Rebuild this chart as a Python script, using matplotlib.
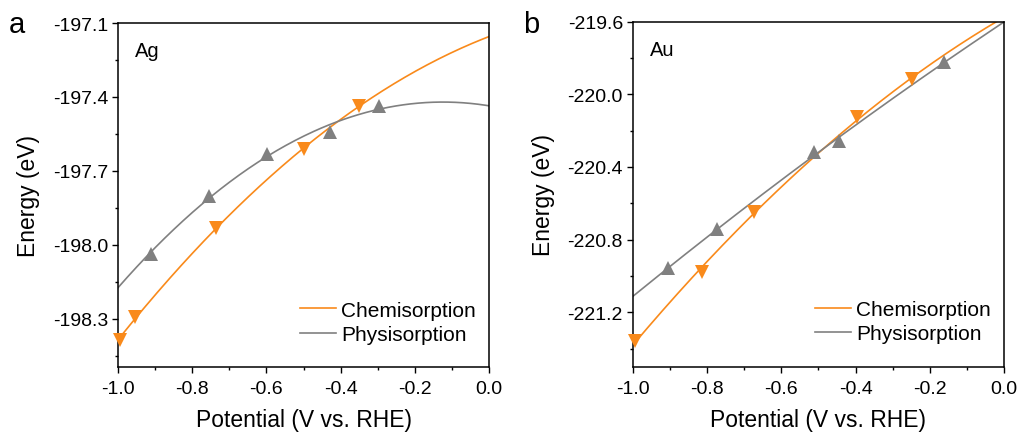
import numpy as np
from matplotlib import pyplot as plt

plt.rcParams['font.family'] = ['Liberation Sans', 'DejaVu Sans']

ORANGE = '#F98A1B'
GRAY = '#808080'

# Ag (panel a)
ag_chem_x = [-0.996, -0.955, -0.736, -0.499, -0.350]
ag_chem_y = [-198.384, -198.293, -197.932, -197.611, -197.435]
ag_phys_x = [-0.911, -0.756, -0.599, -0.429, -0.296]
ag_phys_y = [-198.036, -197.800, -197.631, -197.541, -197.435]

# Au (panel b)
au_chem_x = [-0.994, -0.814, -0.674, -0.396, -0.247]
au_chem_y = [-221.356, -220.980, -220.646, -220.127, -219.916]
au_phys_x = [-0.904, -0.773, -0.511, -0.444, -0.163]
au_phys_y = [-220.958, -220.741, -220.319, -220.255, -219.824]

x_ticks = [-1.0, -0.8, -0.6, -0.4, -0.2, 0.0]
ag_yticks = [-197.1, -197.4, -197.7, -198.0, -198.3]
au_yticks = [-219.6, -220.0, -220.4, -220.8, -221.2]


def fit_curve(x, y):
    coef = np.polyfit(x, y, 2)
    xs = np.linspace(-1.0, 0.0, 200)
    return xs, np.polyval(coef, xs)


def draw_panel(ax, chem, phys, yticks, ylim, name):
    xs, ys = fit_curve(*chem)
    ax.plot(xs, ys, color=ORANGE, lw=1.2, label='Chemisorption')
    ax.plot(chem[0], chem[1], 'v', color=ORANGE, ms=10, mew=0, clip_on=False, zorder=4)
    xs, ys = fit_curve(*phys)
    ax.plot(xs, ys, color=GRAY, lw=1.2, label='Physisorption')
    ax.plot(phys[0], phys[1], '^', color=GRAY, ms=10, mew=0, clip_on=False, zorder=4)

    ax.set_xlim(-1.0, 0.0)
    ax.set_ylim(*ylim)
    ax.set_xticks(x_ticks)
    ax.set_xticklabels(['%.1f' % t for t in x_ticks])
    ax.set_xticks(np.arange(-0.9, 0.0, 0.2), minor=True)
    step = yticks[0] - yticks[1]
    ax.set_yticks(yticks)
    ax.set_yticklabels(['%.1f' % t for t in yticks])
    ax.set_yticks([t - step / 2 for t in yticks], minor=True)
    ax.tick_params(which='major', direction='out', length=4, width=1, labelsize=14, pad=3)
    ax.tick_params(axis='x', which='major', pad=5.5)
    ax.tick_params(which='minor', direction='out', length=2.4, width=1)
    for s in ax.spines.values():
        s.set_linewidth(1.1)

    ax.set_xlabel('Potential (V vs. RHE)', fontsize=16.5, labelpad=8)
    ax.set_ylabel('Energy (eV)', fontsize=16.5, labelpad=9)
    ax.text(0.046, 0.92, name, transform=ax.transAxes, fontsize=14.5, va='center', ha='left')
    ax.legend(loc='upper left', bbox_to_anchor=(0.49, 0.193), frameon=False, fontsize=15,
              handlelength=1.75, handletextpad=0.25, labelspacing=0.25,
              borderpad=0, borderaxespad=0)


fig = plt.figure(figsize=(10.22, 4.39), dpi=100)
ax1 = fig.add_axes([0.1155, 0.1617, 0.363, 0.7836])
ax2 = fig.add_axes([0.619, 0.1624, 0.3636, 0.7859])

draw_panel(ax1, (ag_chem_x, ag_chem_y), (ag_phys_x, ag_phys_y), ag_yticks, (-198.495, -197.1), 'Ag')
draw_panel(ax2, (au_chem_x, au_chem_y), (au_phys_x, au_phys_y), au_yticks, (-221.5, -219.6), 'Au')

fig.text(0.009, 0.925, 'a', fontsize=21)
fig.text(0.512, 0.925, 'b', fontsize=21)

fig.savefig('out.png', dpi=100)
